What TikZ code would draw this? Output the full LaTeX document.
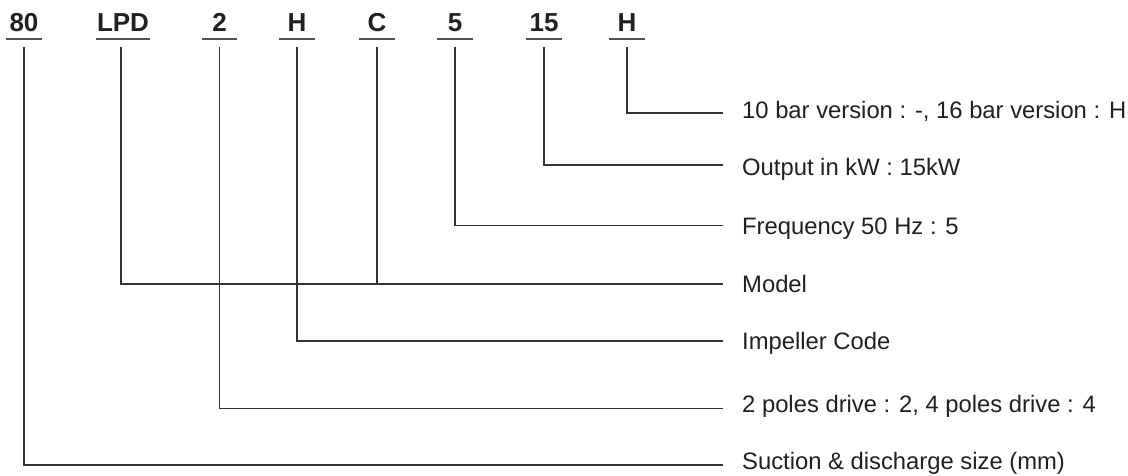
\documentclass[tikz,border=0pt]{standalone}
\usepackage{fontspec}
\setmainfont{Liberation Sans}
\definecolor{ink}{HTML}{231F20}
\definecolor{linec}{HTML}{333333}
\begin{document}
\begin{tikzpicture}[x=1pt,y=-1pt,
  code/.style={font=\fontsize{26}{30}\selectfont\bfseries, text=ink, inner sep=0pt,
    text height=18.6pt, text depth=0pt, anchor=base, minimum width=35pt},
  desc/.style={font=\fontsize{23.8}{28}\selectfont, text=ink, inner sep=0pt,
    text height=17pt, text depth=0pt, anchor=west},
  uline/.style={draw=linec!85, line width=1.6pt},
  conn/.style={draw=linec, line width=1.3pt}]
\useasboundingbox (0,0) rectangle (1128,475);

% codes
\node[code] (c80) at (24,31) {80};
\node[code, minimum width=54pt] (cLPD) at (123,31) {LPD};
\node[code] (c2) at (219.5,31) {2};
\node[code] (cH) at (297,31) {H};
\node[code] (cC) at (377,31) {C};
\node[code] (c5) at (455,31) {5};
\node[code] (c15) at (544,31) {15};
\node[code] (cH2) at (627,31) {H};

\foreach \n in {c80,cLPD,c2,cH,cC,c5,c15,cH2}{
  \draw[uline] ([yshift=-8pt]\n.base west) -- ([yshift=-8pt]\n.base east);
}

% descriptions
\node[desc] (dBar) at (742,110) {10 bar version : -, 16 bar version : H};
\node[desc] (dOut) at (742,167) {Output in kW : 15kW};
\node[desc] (dFreq) at (742,225.5) {Frequency 50 Hz : 5};
\node[desc] (dModel) at (742,284) {Model};
\node[desc] (dImp) at (742,341) {Impeller Code};
\node[desc] (dPole) at (742,404) {2 poles drive : 2, 4 poles drive : 4};
\node[desc] (dSuc) at (742,460.5) {Suction \& discharge size (mm)};

% connectors
\draw[conn] ([yshift=-16pt]cH2.south) |- ([xshift=-19pt,yshift=-3pt]dBar.west);
\draw[conn] ([yshift=-16pt]c15.south) |- ([xshift=-19pt,yshift=2pt]dOut.west);
\draw[conn] ([yshift=-16pt]c5.south) |- ([xshift=-19pt]dFreq.west);
\draw[conn] ([xshift=-2pt,yshift=-16pt]cLPD.south) |- ([xshift=-19pt]dModel.west);
\draw[conn] ([yshift=-16pt]cC.south) -- (cC.south |- dModel.west);
\draw[conn] ([yshift=-16pt]cH.south) |- ([xshift=-19pt]dImp.west);
\draw[conn] ([yshift=-16pt]c2.south) |- ([xshift=-19pt,yshift=-4.5pt]dPole.west);
\draw[conn] ([yshift=-16pt]c80.south) |- ([xshift=-19pt,yshift=-4.5pt]dSuc.west);
\end{tikzpicture}
\end{document}
